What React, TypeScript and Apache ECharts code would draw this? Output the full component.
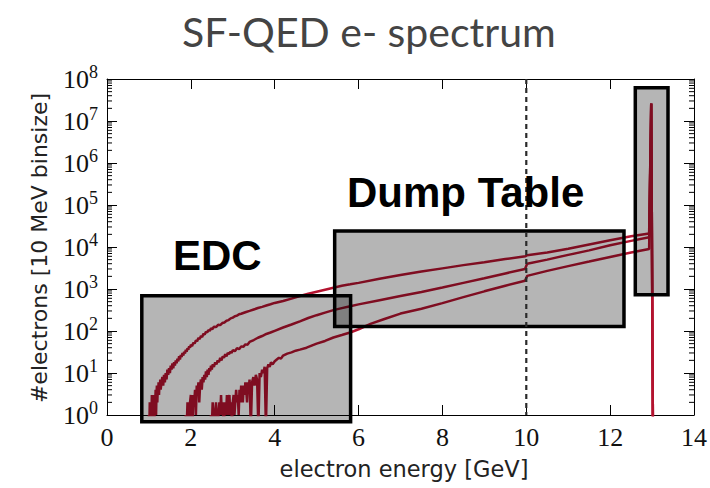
import React, { useEffect, useRef } from 'react';
import * as echarts from 'echarts';

const chartTitle = 'SF-QED e- spectrum';
const xAxisTitle = 'electron energy [GeV]';
const yAxisTitle = '#electrons [10 MeV binsize]';

// [energy in GeV, electrons per 10 MeV bin]; 0.5 stands for an empty bin (below the axis floor)
const spectrumHigh: [number, number][] = [
  [0.98, 0.5], [1.0, 1], [1.01, 0.5], [1.02, 2], [1.03, 1], [1.04, 0.5], [1.05, 2], [1.06, 1],
  [1.07, 3], [1.08, 0.5], [1.09, 2], [1.1, 1], [1.11, 3], [1.12, 2], [1.13, 0.5], [1.14, 3],
  [1.15, 2], [1.16, 4], [1.17, 1], [1.18, 3], [1.19, 5], [1.2, 2], [1.21, 4], [1.22, 3],
  [1.23, 6], [1.24, 3], [1.25, 5], [1.26, 4], [1.27, 7], [1.28, 4], [1.3, 6], [1.32, 8],
  [1.34, 5], [1.36, 9], [1.38, 6], [1.4, 10], [1.42, 7], [1.44, 12], [1.46, 9], [1.48, 13],
  [1.5, 10], [1.52, 15], [1.54, 12], [1.56, 17], [1.58, 13], [1.6, 18], [1.62, 15], [1.64, 20],
  [1.66, 17], [1.68, 22], [1.7, 19], [1.72, 25], [1.74, 21], [1.76, 27], [1.78, 24], [1.8, 30],
  [1.82, 26], [1.84, 32], [1.86, 29], [1.88, 36], [1.9, 32], [1.92, 39], [1.94, 36], [1.96, 43],
  [1.98, 40], [2.0, 47], [2.03, 44], [2.06, 53], [2.09, 50], [2.12, 60], [2.15, 57], [2.18, 68],
  [2.21, 64], [2.24, 76], [2.27, 72], [2.3, 86], [2.33, 82], [2.36, 96], [2.39, 92], [2.42, 106],
  [2.45, 101], [2.48, 116], [2.51, 110], [2.55, 126], [2.6, 124], [2.65, 140], [2.7, 138],
  [2.75, 155], [2.8, 160], [2.85, 176], [2.9, 182], [2.95, 200], [3.0, 208], [3.05, 224],
  [3.1, 232], [3.15, 250], [3.2, 258], [3.3, 280], [3.4, 302], [3.5, 326], [3.6, 352], [3.7, 376],
  [3.8, 404], [3.9, 432], [4.0, 466], [4.2, 520], [4.4, 590], [4.6, 680], [4.8, 770], [5.0, 860],
  [5.2, 960], [5.4, 1070], [5.6, 1190], [5.8, 1290], [6.0, 1400], [6.5, 1750], [7.0, 2150],
  [7.5, 2600], [8.0, 3100], [8.5, 3700], [9.0, 4350], [9.5, 5150], [9.98, 6000], [10.02, 6400],
  [10.5, 7400], [11.0, 9100], [11.5, 11500], [12.0, 14500], [12.5, 18000], [12.93, 21000],
  [12.98, 26000000], [13.02, 0.5],
];

const spectrumMid: [number, number][] = [
  [1.86, 0.5], [1.88, 1], [1.9, 0.5], [1.92, 2], [1.94, 1], [1.96, 0.5], [1.98, 2], [2.0, 3],
  [2.02, 1], [2.04, 0.5], [2.06, 3], [2.08, 2], [2.1, 4], [2.12, 1], [2.14, 5], [2.16, 3],
  [2.18, 6], [2.2, 2], [2.22, 5], [2.24, 7], [2.26, 4], [2.28, 8], [2.3, 6], [2.32, 9],
  [2.34, 7], [2.36, 11], [2.38, 8], [2.4, 12], [2.42, 9], [2.44, 13], [2.46, 11], [2.48, 15],
  [2.5, 12], [2.52, 16], [2.55, 14], [2.58, 18], [2.61, 16], [2.64, 20], [2.67, 18], [2.7, 23],
  [2.73, 20], [2.76, 25], [2.79, 23], [2.82, 28], [2.85, 25], [2.88, 30], [2.91, 28], [2.94, 32],
  [2.97, 30], [3.0, 35], [3.05, 33], [3.1, 39], [3.15, 37], [3.2, 43], [3.25, 42], [3.3, 48],
  [3.35, 47], [3.4, 55], [3.5, 61], [3.6, 69], [3.7, 76], [3.8, 85], [3.9, 92], [4.0, 101],
  [4.2, 121], [4.4, 143], [4.6, 170], [4.8, 204], [5.0, 238], [5.2, 274], [5.4, 314], [5.6, 350],
  [5.8, 390], [6.0, 430], [6.5, 540], [7.0, 680], [7.5, 850], [8.0, 1090], [8.5, 1400],
  [9.0, 1800], [9.5, 2350], [9.97, 3000], [10.02, 4000], [10.5, 5000], [11.0, 6500],
  [11.5, 8300], [12.0, 11000], [12.5, 14000], [12.93, 17000], [12.98, 26000000], [13.02, 0.5],
];

const spectrumLow: [number, number][] = [
  [2.46, 0.5], [2.48, 1], [2.5, 0.5], [2.52, 2], [2.54, 1], [2.56, 0.5], [2.58, 1], [2.6, 2],
  [2.62, 1], [2.64, 0.5], [2.66, 1], [2.68, 2], [2.7, 1], [2.72, 3], [2.74, 1], [2.76, 2],
  [2.78, 0.5], [2.8, 1], [2.82, 2], [2.84, 1], [2.86, 3], [2.88, 1], [2.9, 2], [2.92, 3],
  [2.94, 1], [2.96, 2], [2.98, 0.5], [3.0, 2], [3.02, 3], [3.04, 1], [3.06, 2], [3.08, 4],
  [3.1, 2], [3.12, 3], [3.14, 1], [3.16, 4], [3.18, 2], [3.2, 5], [3.22, 3], [3.24, 2],
  [3.26, 5], [3.28, 3], [3.3, 6], [3.32, 4], [3.34, 2], [3.36, 6], [3.38, 4], [3.4, 7],
  [3.43, 0.5], [3.46, 6], [3.49, 8], [3.52, 5], [3.55, 9], [3.58, 7], [3.61, 0.5], [3.64, 10],
  [3.67, 8], [3.7, 12], [3.73, 10], [3.76, 14], [3.79, 0.5], [3.82, 13], [3.85, 16], [3.88, 14],
  [3.91, 18], [3.95, 16], [4.0, 19], [4.05, 21], [4.1, 23], [4.15, 22], [4.2, 26], [4.3, 29],
  [4.4, 31], [4.5, 34], [4.6, 36], [4.76, 40], [5.0, 50], [5.2, 58], [5.4, 70], [5.6, 80],
  [5.8, 92], [6.0, 110], [6.3, 150], [6.6, 190], [7.0, 260], [7.5, 340], [8.0, 460], [8.5, 640],
  [9.0, 880], [9.5, 1200], [9.97, 1570], [10.02, 2050], [10.5, 2700], [11.0, 3500],
  [11.5, 4500], [12.0, 5800], [12.5, 7400], [12.93, 9000], [12.98, 26000000], [13.02, 0.5],
];

// Highlighted regions: [energy from, energy to, electrons from, electrons to]
const regionEdc: [number, number, number, number] = [0.83, 5.81, 0.69, 690];
const regionDumpTable: [number, number, number, number] = [5.43, 12.33, 128, 24000];
const regionSpike: [number, number, number, number] = [12.6, 13.38, 730, 62000000];
const regionNames = ['EDC', 'Dump Table'];

// Energy of the dashed marker line
const markerEnergy = [10];

const lineColor = '#b3132f';
const serif = '"Liberation Serif", "Times New Roman", serif';
const sans = '"DejaVu Sans", sans-serif';
const boldSans = '"Liberation Sans", Arial, sans-serif';

// Log-decade minor tick positions (2..9 x 10^d)
const minorTickValues: number[][] = [];
for (let d = 0; d < 8; d++) {
  for (let k = 2; k <= 9; k++) minorTickValues.push([0, k * Math.pow(10, d)]);
}

const axisLineStyle = { show: true, onZero: false, lineStyle: { color: '#000', width: 1 } };
const majorTick = { show: true, inside: true, length: 10, lineStyle: { color: '#000', width: 1 } };

export default function App() {
  const ref = useRef<HTMLDivElement>(null);

  useEffect(() => {
    if (!ref.current) return;
    const chart = echarts.init(ref.current, null, { renderer: 'svg' });

    const curve = (name: string, data: [number, number][]) => ({
      name,
      type: 'line',
      data,
      showSymbol: false,
      symbol: 'none',
      clip: true,
      lineStyle: { color: lineColor, width: 2.5 },
      z: 2,
    });

    chart.setOption({
      animation: false,
      backgroundColor: '#fff',
      grid: { left: 107, right: 15, top: 79, bottom: 73, containLabel: false },
      xAxis: [
        {
          type: 'value', min: 0, max: 14, interval: 2, position: 'bottom',
          axisLine: axisLineStyle, axisTick: majorTick, splitLine: { show: false },
          axisLabel: { margin: 9, fontFamily: serif, fontSize: 26, color: '#111' },
        },
        {
          type: 'value', min: 0, max: 14, interval: 2, position: 'top',
          axisLine: axisLineStyle, axisTick: majorTick, splitLine: { show: false },
          axisLabel: { show: false },
        },
      ],
      yAxis: [
        {
          type: 'log', logBase: 10, min: 1, max: 1e8, splitNumber: 8, position: 'left',
          axisLine: axisLineStyle, axisTick: majorTick, splitLine: { show: false },
          axisLabel: {
            margin: 9,
            formatter: (v: number) => `{b|10}{s|${Math.round(Math.log10(v))}}`,
            rich: {
              b: { fontFamily: serif, fontSize: 26, color: '#111', lineHeight: 32 },
              s: { fontFamily: serif, fontSize: 18, color: '#111', lineHeight: 17, verticalAlign: 'top' },
            },
          },
        },
        {
          type: 'log', logBase: 10, min: 1, max: 1e8, splitNumber: 8, position: 'right',
          axisLine: axisLineStyle, axisTick: majorTick, splitLine: { show: false },
          axisLabel: { show: false },
        },
      ],
      series: [
        curve('high', spectrumHigh),
        curve('mid', spectrumMid),
        curve('low', spectrumLow),
        {
          type: 'custom',
          name: 'minor ticks',
          data: minorTickValues,
          encode: { x: 0, y: 1 },
          z: 3,
          renderItem: (_p: any, api: any) => {
            const v = api.value(1);
            const l = api.coord([0, v]);
            const r = api.coord([14, v]);
            return {
              type: 'group',
              children: [
                { type: 'line', shape: { x1: l[0], y1: l[1], x2: l[0] + 5, y2: l[1] }, style: { stroke: '#000', lineWidth: 1 } },
                { type: 'line', shape: { x1: r[0] - 5, y1: r[1], x2: r[0], y2: r[1] }, style: { stroke: '#000', lineWidth: 1 } },
              ],
            };
          },
        },
        {
          type: 'custom',
          name: 'regions',
          data: [regionEdc, regionDumpTable, regionSpike],
          encode: { x: [0, 1], y: [2, 3] },
          clip: false,
          z: 4,
          renderItem: (_p: any, api: any) => {
            const a = api.coord([api.value(0), api.value(3)]);
            const b = api.coord([api.value(1), api.value(2)]);
            return {
              type: 'rect',
              shape: { x: a[0], y: a[1], width: b[0] - a[0], height: b[1] - a[1] },
              style: { fill: 'rgba(0,0,0,0.29)', stroke: '#000', lineWidth: 3.5 },
            };
          },
        },
        {
          type: 'custom',
          name: 'marker',
          data: markerEnergy.map((e) => [e, 1]),
          encode: { x: 0, y: 1 },
          z: 5,
          renderItem: (_p: any, api: any) => {
            const e = api.value(0);
            const top = api.coord([e, 1e8]);
            const bottom = api.coord([e, 1]);
            return {
              type: 'line',
              shape: { x1: top[0], y1: top[1], x2: bottom[0], y2: bottom[1] },
              style: { stroke: '#2a2a2a', lineWidth: 2.2, lineDash: [5, 4] },
            };
          },
        },
      ],
      graphic: [
        {
          type: 'text', x: 182, y: 31,
          style: { text: chartTitle, fontFamily: 'Lato', fontSize: 41, fill: '#444', align: 'left', verticalAlign: 'middle' },
        },
        {
          type: 'text', x: 173, y: 255, z: 10,
          style: { text: regionNames[0], fontFamily: boldSans, fontWeight: 'bold', fontSize: 42, fill: '#000', align: 'left', verticalAlign: 'middle' },
        },
        {
          type: 'text', x: 347, y: 192, z: 10,
          style: { text: regionNames[1], fontFamily: boldSans, fontWeight: 'bold', fontSize: 42, fill: '#000', align: 'left', verticalAlign: 'middle' },
        },
        {
          type: 'text', x: 404, y: 469,
          style: { text: xAxisTitle, fontFamily: sans, fontSize: 22.5, fill: '#222', align: 'center', verticalAlign: 'middle' },
        },
        {
          type: 'text', x: 39, y: 248, rotation: Math.PI / 2,
          style: { text: yAxisTitle, fontFamily: sans, fontSize: 22, fill: '#222', align: 'center', verticalAlign: 'middle' },
        },
      ],
    });

    return () => chart.dispose();
  }, []);

  return <div ref={ref} style={{ position: 'fixed', left: 0, top: 0, width: 710, height: 488 }} />;
}
